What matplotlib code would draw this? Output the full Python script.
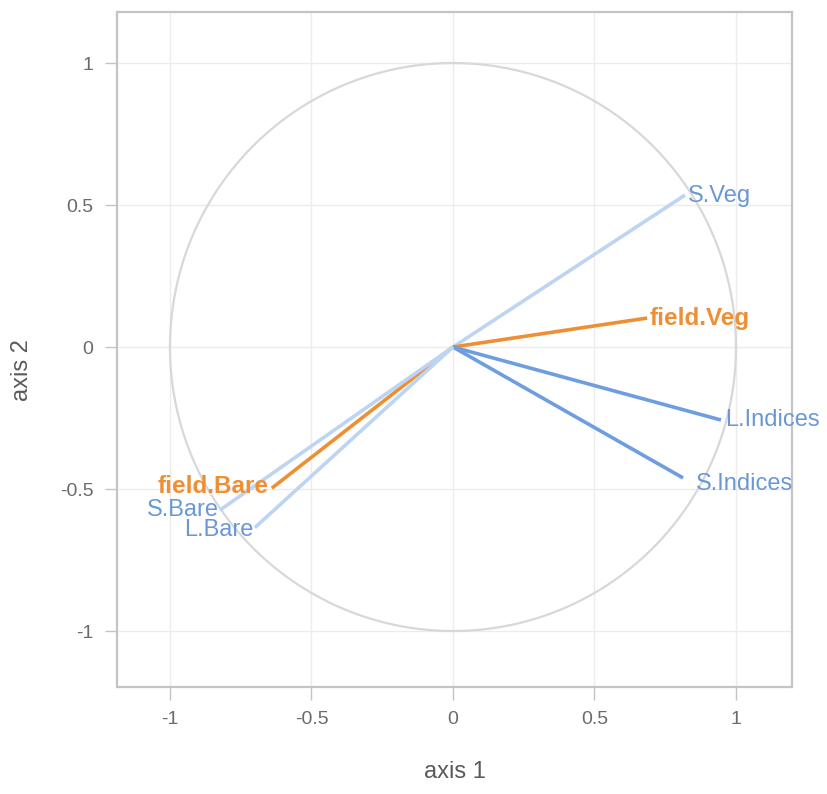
import numpy as np
import matplotlib
matplotlib.use("Agg")
import matplotlib.pyplot as plt

names = ["S.Veg", "field.Veg", "L.Indices", "S.Indices", "field.Bare", "S.Bare", "L.Bare"]
ax1_vals = [0.82, 0.686, 0.947, 0.813, -0.64, -0.823, -0.70]
ax2_vals = [0.535, 0.102, -0.257, -0.461, -0.497, -0.574, -0.636]
groups = ["light", "field", "dark", "dark", "field", "light", "light"]

line_colors = {"light": "#bdd5f2", "dark": "#6e9de0", "field": "#ef8f35"}
text_colors = {"light": "#6a98d6", "dark": "#6a98d6", "field": "#ef8f35"}

# label offsets in points (dx, dy)
offsets = {"S.Veg": (2, -1), "field.Veg": (2, 0), "L.Indices": (3, 0), "S.Indices": (9, -4),
           "field.Bare": (-2, 1), "S.Bare": (1, 0), "L.Bare": (1, -2)}

plt.rcParams['font.family'] = ['Liberation Sans', 'DejaVu Sans']

fig = plt.figure(figsize=(8.27, 7.94), dpi=100)
ax = fig.add_axes([0.1415, 0.1348, 0.8162, 0.8502])
ax.set_xlim(-1.187, 1.198)
ax.set_ylim(-1.197, 1.18)

ticks = [-1, -0.5, 0, 0.5, 1]
tick_labels = ["-1", "-0.5", "0", "0.5", "1"]
ax.set_xticks(ticks)
ax.set_yticks(ticks)
ax.set_xticklabels(tick_labels)
ax.set_yticklabels(tick_labels)
ax.grid(True, color="#ececec", linewidth=1.0)
ax.set_axisbelow(True)
for s in ax.spines.values():
    s.set_color("#c4c4c4")
    s.set_linewidth(1.6)
ax.tick_params(axis="both", length=9, width=1.0, color="#c4c4c4",
               labelcolor="#6b6b6b", labelsize=14, pad=8)

t = np.linspace(0, 2 * np.pi, 400)
ax.plot(np.cos(t), np.sin(t), color="#d8d8d8", linewidth=1.6, zorder=1)

for n, x, y, g in zip(names, ax1_vals, ax2_vals, groups):
    ax.plot([0, x], [0, y], color=line_colors[g], linewidth=2.6,
            solid_capstyle="butt", zorder=2)
for n, x, y, g in zip(names, ax1_vals, ax2_vals, groups):
    ha = "left" if x > 0 else "right"
    dx, dy = offsets[n]
    if x < 0:
        dx = -abs(dx)
    bold = g == "field"
    ax.annotate(n, (x, y), xytext=(dx, dy), textcoords="offset points",
                ha=ha, va="center", color=text_colors[g],
                fontsize=17.5 if bold else 17,
                fontweight="bold" if bold else "normal", zorder=3)

ax.set_xlabel("axis 1", fontsize=17, color="#5a5a5a")
ax.set_ylabel("axis 2", fontsize=17, color="#5a5a5a")
ax.xaxis.set_label_coords(0.5, -0.11)
ax.yaxis.set_label_coords(-0.125, 0.47)

fig.savefig("out.png", dpi=100, facecolor="white")
